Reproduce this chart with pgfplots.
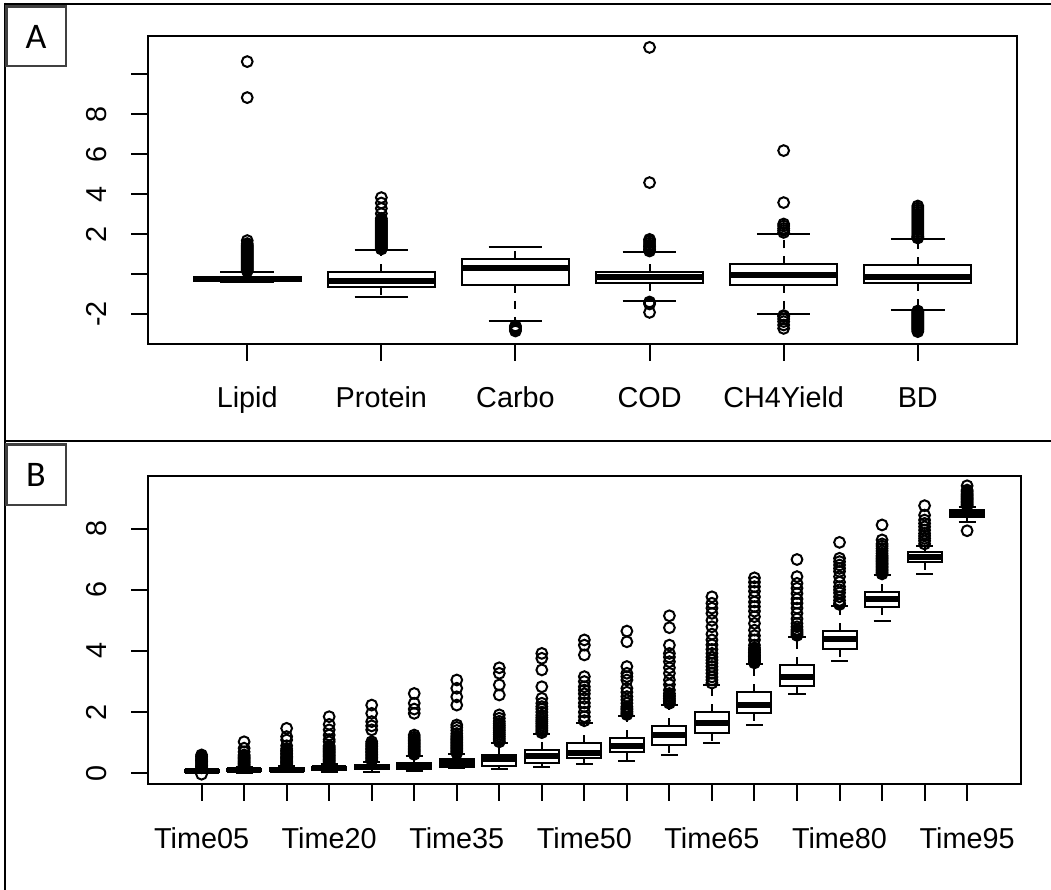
\documentclass[border=0pt]{standalone}
\usepackage{pgfplots}
\pgfplotsset{compat=1.18}
\usepgfplotslibrary{statistics}
\usepackage{fontspec}
\setmainfont{Liberation Sans}
\newfontfamily\calib{Carlito}

\pgfplotsset{
  rbox/.style={
    scale only axis,
    tick align=outside,
    major tick length=8.35pt,
    axis line style={line width=1pt},
    every tick/.style={black, line width=1pt},
    xtick pos=bottom, ytick pos=left,
    enlargelimits=false,
    tick label style={font=\fontsize{14.4}{16}\selectfont},
    xticklabel style={anchor=base, inner sep=0pt, yshift=-23.6pt},
    yticklabel style={xshift=-12.15pt, rotate=90, anchor=base, inner sep=0pt},
    boxplot/draw direction=y,
    boxplot/box extend=0.8,
    boxplot/whisker extend=0.4,
    boxplot/every box/.style={draw=black, fill=white, line width=1pt},
    boxplot/every median/.style={draw=black, line width=3pt},
    boxplot/draw/lower whisker/.code={%
      \draw[black, line width=1pt, dash pattern=on 4pt off 4pt]
        (boxplot cs:\pgfplotsboxplotvalue{lower quartile}) -- (boxplot cs:\pgfplotsboxplotvalue{lower whisker});
      \draw[black, line width=1pt]
        (boxplot whisker cs:\pgfplotsboxplotvalue{lower whisker},0) -- (boxplot whisker cs:\pgfplotsboxplotvalue{lower whisker},1);
    },
    boxplot/draw/upper whisker/.code={%
      \draw[black, line width=1pt, dash pattern=on 4pt off 4pt]
        (boxplot cs:\pgfplotsboxplotvalue{upper quartile}) -- (boxplot cs:\pgfplotsboxplotvalue{upper whisker});
      \draw[black, line width=1pt]
        (boxplot whisker cs:\pgfplotsboxplotvalue{upper whisker},0) -- (boxplot whisker cs:\pgfplotsboxplotvalue{upper whisker},1);
    },
  },
  rb/.style={black, mark=o, mark size=2.7pt, mark options={line width=1pt, solid}, line width=1pt, boxplot prepared={draw direction=y, #1}},
}

\begin{document}
\begin{tikzpicture}
\path[use as bounding box] (0,0) rectangle (525.5pt,445pt);

% ---------------- Panel A ----------------
\begin{axis}[rbox,
  at={(74pt,427pt)}, anchor=north west,
  width=434.5pt, height=154pt,
  xmin=0.26, xmax=6.74, ymin=-3.5, ymax=11.9,
  xtick={1,2,3,4,5,6},
  xticklabels={Lipid,Protein,Carbo,COD,CH4Yield,BD},
  ytick={-2,0,2,4,6,8,10},
  yticklabels={-2,,2,4,6,8,},
]
\addplot[rb={draw position=1, lower whisker=-0.38, lower quartile=-0.36, median=-0.23, upper quartile=-0.13, upper whisker=0.12}]
  table[row sep=\\, y index=0] {y\\ 10.62\\ 8.82\\ 1.67\\ 1.52\\ 1.45\\ 1.4\\ 1.35\\ 1.3\\ 1.25\\ 1.2\\ 1.15\\ 1.1\\ 1.05\\ 1.0\\ 0.95\\ 0.9\\ 0.85\\ 0.8\\ 0.75\\ 0.7\\ 0.65\\ 0.6\\ 0.55\\ 0.5\\ 0.45\\ 0.4\\ 0.35\\ 0.3\\ 0.25\\ 0.2\\ 0.15\\};
\addplot[rb={draw position=2, lower whisker=-1.17, lower quartile=-0.63, median=-0.35, upper quartile=0.1, upper whisker=1.2}]
  table[row sep=\\, y index=0] {y\\ 3.82\\ 3.55\\ 3.28\\ 3.02\\ 2.78\\ 2.7\\ 2.65\\ 2.6\\ 2.55\\ 2.5\\ 2.45\\ 2.4\\ 2.35\\ 2.3\\ 2.25\\ 2.2\\ 2.15\\ 2.1\\ 2.05\\ 2.0\\ 1.95\\ 1.9\\ 1.85\\ 1.8\\ 1.75\\ 1.7\\ 1.65\\ 1.6\\ 1.55\\ 1.5\\ 1.45\\ 1.4\\ 1.35\\ 1.3\\ 1.25\\};
\addplot[rb={draw position=3, lower whisker=-2.37, lower quartile=-0.55, median=0.28, upper quartile=0.73, upper whisker=1.35}]
  table[row sep=\\, y index=0] {y\\ -2.6\\ -2.65\\ -2.7\\ -2.75\\ -2.8\\ -2.85\\};
\addplot[rb={draw position=4, lower whisker=-1.35, lower quartile=-0.47, median=-0.17, upper quartile=0.12, upper whisker=1.08}]
  table[row sep=\\, y index=0] {y\\ 11.33\\ 4.57\\ 1.73\\ 1.65\\ 1.55\\ 1.45\\ 1.38\\ 1.3\\ 1.22\\ 1.15\\ -1.4\\ -1.45\\ -1.5\\ -1.92\\};
\addplot[rb={draw position=5, lower whisker=-1.98, lower quartile=-0.55, median=-0.07, upper quartile=0.48, upper whisker=2.0}]
  table[row sep=\\, y index=0] {y\\ 6.17\\ 3.57\\ 2.5\\ 2.4\\ 2.28\\ 2.18\\ 2.08\\ -2.08\\ -2.13\\ -2.25\\ -2.38\\ -2.55\\ -2.72\\};
\addplot[rb={draw position=6, lower whisker=-1.8, lower quartile=-0.47, median=-0.15, upper quartile=0.45, upper whisker=1.73}]
  table[row sep=\\, y index=0] {y\\ 3.4\\ 3.3\\ 3.2\\ 3.1\\ 3.0\\ 2.9\\ 2.8\\ 2.7\\ 2.6\\ 2.5\\ 2.4\\ 2.3\\ 2.2\\ 2.1\\ 2.0\\ 1.9\\ 1.85\\ 1.8\\ -1.85\\ -1.9\\ -1.95\\ -2.0\\ -2.05\\ -2.1\\ -2.15\\ -2.2\\ -2.25\\ -2.3\\ -2.35\\ -2.4\\ -2.45\\ -2.5\\ -2.55\\ -2.6\\ -2.65\\ -2.7\\ -2.75\\ -2.8\\ -2.88\\};
\end{axis}

% ---------------- Panel B ----------------
\begin{axis}[rbox,
  at={(74pt,207.15pt)}, anchor=north west,
  width=436.35pt, height=154.3pt,
  xmin=-0.26, xmax=20.26, ymin=-0.36, ymax=9.73,
  xtick={1,...,19},
  xticklabels={Time05,,,Time20,,,Time35,,,Time50,,,Time65,,,Time80,,,Time95},
  ytick={0,2,4,6,8},
  yticklabels={0,2,4,6,8},
]
\addplot[rb={draw position=1, lower whisker=0.0, lower quartile=0.04, median=0.07, upper quartile=0.1, upper whisker=0.15}]
  table[row sep=\\, y index=0] {y\\ 0.18\\ 0.22\\ 0.26\\ 0.3\\ 0.34\\ 0.38\\ 0.42\\ 0.46\\ 0.5\\ 0.55\\ 0.6\\ -0.03\\};
\addplot[rb={draw position=2, lower whisker=0.02, lower quartile=0.07, median=0.1, upper quartile=0.14, upper whisker=0.2}]
  table[row sep=\\, y index=0] {y\\ 0.24\\ 0.28\\ 0.32\\ 0.36\\ 0.4\\ 0.44\\ 0.48\\ 0.52\\ 0.56\\ 0.6\\ 0.7\\ 0.82\\ 1.03\\};
\addplot[rb={draw position=3, lower whisker=0.03, lower quartile=0.08, median=0.12, upper quartile=0.16, upper whisker=0.24}]
  table[row sep=\\, y index=0] {y\\ 0.27\\ 0.31\\ 0.35\\ 0.39\\ 0.43\\ 0.47\\ 0.51\\ 0.55\\ 0.6\\ 0.65\\ 0.7\\ 0.75\\ 0.8\\ 0.9\\ 1.09\\ 1.2\\ 1.47\\};
\addplot[rb={draw position=4, lower whisker=0.05, lower quartile=0.11, median=0.16, upper quartile=0.21, upper whisker=0.3}]
  table[row sep=\\, y index=0] {y\\ 0.34\\ 0.38\\ 0.42\\ 0.46\\ 0.5\\ 0.54\\ 0.58\\ 0.62\\ 0.66\\ 0.7\\ 0.74\\ 0.78\\ 0.82\\ 0.86\\ 0.9\\ 1.03\\ 1.1\\ 1.25\\ 1.42\\ 1.6\\ 1.85\\};
\addplot[rb={draw position=5, lower whisker=0.05, lower quartile=0.13, median=0.19, upper quartile=0.28, upper whisker=0.38}]
  table[row sep=\\, y index=0] {y\\ 0.42\\ 0.47\\ 0.52\\ 0.57\\ 0.62\\ 0.67\\ 0.72\\ 0.77\\ 0.82\\ 0.87\\ 0.92\\ 0.97\\ 1.03\\ 1.42\\ 1.55\\ 1.69\\ 1.96\\ 2.23\\};
\addplot[rb={draw position=6, lower whisker=0.08, lower quartile=0.15, median=0.24, upper quartile=0.35, upper whisker=0.58}]
  table[row sep=\\, y index=0] {y\\ 0.62\\ 0.67\\ 0.72\\ 0.77\\ 0.82\\ 0.87\\ 0.92\\ 0.97\\ 1.02\\ 1.07\\ 1.12\\ 1.18\\ 1.25\\ 1.96\\ 2.1\\ 2.29\\ 2.61\\};
\addplot[rb={draw position=7, lower whisker=0.16, lower quartile=0.19, median=0.33, upper quartile=0.46, upper whisker=0.62}]
  table[row sep=\\, y index=0] {y\\ 0.66\\ 0.71\\ 0.76\\ 0.81\\ 0.86\\ 0.91\\ 0.96\\ 1.01\\ 1.06\\ 1.11\\ 1.16\\ 1.22\\ 1.3\\ 1.4\\ 1.5\\ 1.58\\ 2.23\\ 2.5\\ 2.78\\ 3.05\\};
\addplot[rb={draw position=8, lower whisker=0.13, lower quartile=0.24, median=0.46, upper quartile=0.6, upper whisker=0.98}]
  table[row sep=\\, y index=0] {y\\ 1.03\\ 1.09\\ 1.15\\ 1.21\\ 1.27\\ 1.33\\ 1.39\\ 1.45\\ 1.51\\ 1.57\\ 1.63\\ 1.7\\ 1.8\\ 1.91\\ 2.56\\ 2.89\\ 3.27\\ 3.45\\};
\addplot[rb={draw position=9, lower whisker=0.2, lower quartile=0.33, median=0.57, upper quartile=0.76, upper whisker=1.29}]
  table[row sep=\\, y index=0] {y\\ 1.33\\ 1.39\\ 1.45\\ 1.51\\ 1.57\\ 1.63\\ 1.69\\ 1.75\\ 1.82\\ 1.9\\ 2.0\\ 2.1\\ 2.18\\ 2.29\\ 2.45\\ 2.83\\ 3.38\\ 3.76\\ 3.92\\};
\addplot[rb={draw position=10, lower whisker=0.29, lower quartile=0.49, median=0.65, upper quartile=0.98, upper whisker=1.63}]
  table[row sep=\\, y index=0] {y\\ 1.72\\ 1.85\\ 2.0\\ 2.18\\ 2.3\\ 2.45\\ 2.6\\ 2.72\\ 2.83\\ 3.0\\ 3.16\\ 3.87\\ 4.19\\ 4.36\\};
\addplot[rb={draw position=11, lower whisker=0.4, lower quartile=0.69, median=0.89, upper quartile=1.17, upper whisker=1.87}]
  table[row sep=\\, y index=0] {y\\ 1.92\\ 1.97\\ 2.02\\ 2.08\\ 2.13\\ 2.18\\ 2.29\\ 2.4\\ 2.51\\ 2.65\\ 2.78\\ 3.05\\ 3.16\\ 3.27\\ 3.49\\ 4.3\\ 4.65\\};
\addplot[rb={draw position=12, lower whisker=0.6, lower quartile=0.93, median=1.25, upper quartile=1.55, upper whisker=2.23}]
  table[row sep=\\, y index=0] {y\\ 2.29\\ 2.34\\ 2.39\\ 2.44\\ 2.5\\ 2.55\\ 2.61\\ 2.72\\ 2.9\\ 3.05\\ 3.27\\ 3.45\\ 3.65\\ 3.8\\ 3.92\\ 4.19\\ 4.76\\ 5.15\\};
\addplot[rb={draw position=13, lower whisker=0.98, lower quartile=1.33, median=1.66, upper quartile=2.02, upper whisker=2.89}]
  table[row sep=\\, y index=0] {y\\ 2.95\\ 3.05\\ 3.15\\ 3.27\\ 3.38\\ 3.49\\ 3.6\\ 3.7\\ 3.8\\ 3.92\\ 4.05\\ 4.2\\ 4.36\\ 4.55\\ 4.79\\ 5.0\\ 5.23\\ 5.4\\ 5.56\\ 5.77\\};
\addplot[rb={draw position=14, lower whisker=1.58, lower quartile=1.98, median=2.23, upper quartile=2.67, upper whisker=3.57}]
  table[row sep=\\, y index=0] {y\\ 3.61\\ 3.65\\ 3.69\\ 3.73\\ 3.77\\ 3.81\\ 3.85\\ 3.9\\ 3.95\\ 4.0\\ 4.05\\ 4.1\\ 4.19\\ 4.36\\ 4.5\\ 4.68\\ 4.9\\ 5.12\\ 5.3\\ 5.45\\ 5.6\\ 5.77\\ 5.95\\ 6.1\\ 6.25\\ 6.39\\};
\addplot[rb={draw position=15, lower whisker=2.58, lower quartile=2.86, median=3.16, upper quartile=3.54, upper whisker=4.47}]
  table[row sep=\\, y index=0] {y\\ 4.51\\ 4.55\\ 4.6\\ 4.65\\ 4.7\\ 4.79\\ 4.9\\ 5.05\\ 5.23\\ 5.4\\ 5.56\\ 5.7\\ 5.88\\ 6.05\\ 6.21\\ 6.43\\ 6.99\\};
\addplot[rb={draw position=16, lower whisker=3.67, lower quartile=4.06, median=4.38, upper quartile=4.66, upper whisker=5.48}]
  table[row sep=\\, y index=0] {y\\ 5.52\\ 5.56\\ 5.65\\ 5.77\\ 5.9\\ 6.0\\ 6.1\\ 6.25\\ 6.43\\ 6.6\\ 6.7\\ 6.81\\ 6.92\\ 7.03\\ 7.55\\};
\addplot[rb={draw position=17, lower whisker=4.98, lower quartile=5.45, median=5.69, upper quartile=5.92, upper whisker=6.48}]
  table[row sep=\\, y index=0] {y\\ 6.52\\ 6.57\\ 6.62\\ 6.67\\ 6.72\\ 6.77\\ 6.82\\ 6.87\\ 6.92\\ 6.97\\ 7.02\\ 7.07\\ 7.12\\ 7.19\\ 7.27\\ 7.35\\ 7.43\\ 7.5\\ 7.63\\ 8.12\\};
\addplot[rb={draw position=18, lower whisker=6.51, lower quartile=6.9, median=7.08, upper quartile=7.22, upper whisker=7.43}]
  table[row sep=\\, y index=0] {y\\ 7.5\\ 7.6\\ 7.68\\ 7.76\\ 7.84\\ 7.95\\ 8.06\\ 8.17\\ 8.28\\ 8.44\\ 8.75\\};
\addplot[rb={draw position=19, lower whisker=8.22, lower quartile=8.39, median=8.5, upper quartile=8.61, upper whisker=8.71}]
  table[row sep=\\, y index=0] {y\\ 8.75\\ 8.79\\ 8.83\\ 8.87\\ 8.91\\ 8.95\\ 8.99\\ 9.03\\ 9.07\\ 9.11\\ 9.16\\ 9.21\\ 9.26\\ 9.4\\ 7.93\\};
\end{axis}

% ---------------- frame and panel tags ----------------
\draw[black, line width=1pt] (2.65pt,443.15pt) -- (525.5pt,443.15pt);
\draw[black, line width=1pt] (2.65pt,443.65pt) -- (2.65pt,0pt);
\draw[black, line width=1pt] (2.65pt,224.6pt) -- (525.5pt,224.6pt);
\draw[draw=black!75, line width=1.35pt, fill=white] (3.2pt,441.8pt) rectangle (33pt,412pt);
\node[font=\calib\fontsize{18}{20}\selectfont] at (18pt,426.7pt) {A};
\draw[draw=black!75, line width=1.35pt, fill=white] (3.2pt,222.6pt) rectangle (33pt,192.5pt);
\node[font=\calib\fontsize{18}{20}\selectfont] at (18pt,207.5pt) {B};
\end{tikzpicture}
\end{document}
